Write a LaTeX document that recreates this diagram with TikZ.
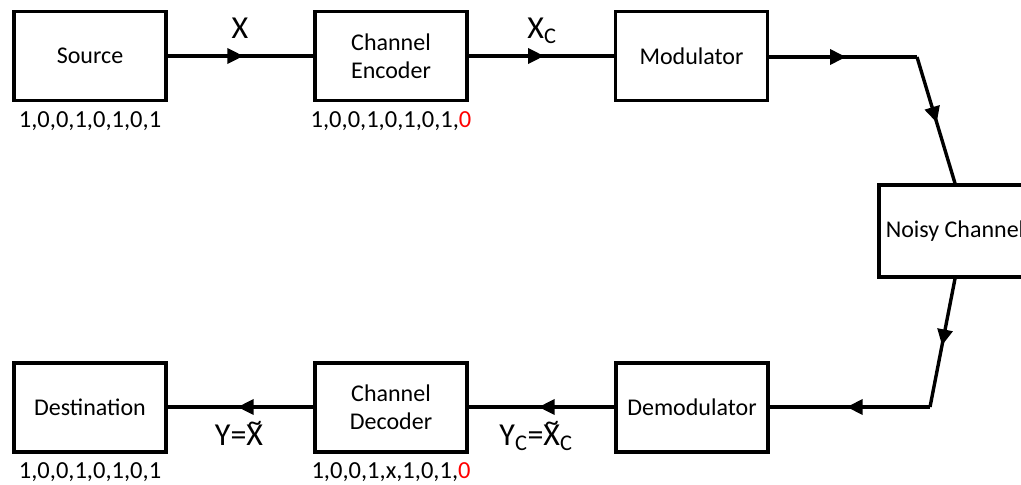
\documentclass[tikz,border=0pt]{standalone}
\usepackage{fontspec}
\setmainfont{Carlito}
\usetikzlibrary{arrows.meta,decorations.markings}
\definecolor{bitred}{RGB}{255,0,0}
\newcommand\tildeX{\leavevmode\setbox0=\hbox{X}\hbox{\rlap{X}\hbox to\wd0{\hss\raisebox{0.43em}{\fontsize{28}{28}\selectfont\textasciitilde}\hss}}}
\tikzset{
  blk/.style={draw=black, line width=3.4pt, minimum width=152pt, minimum height=89pt,
    inner sep=0pt, align=center, font=\fontsize{24}{28}\selectfont},
  bits/.style={font=\fontsize{24.5}{28}\selectfont, anchor=base, inner sep=0pt},
  sig/.style={font=\fontsize{32}{36}\selectfont, anchor=base, inner sep=0pt},
  conn/.style={line width=3.4pt, postaction={decorate},
    decoration={markings, mark=at position 0.52 with {\arrow{Triangle[length=16pt,width=15pt]}}}}
}
\begin{document}
\begin{tikzpicture}[x=1pt,y=-1pt]
\useasboundingbox (0,0) rectangle (1021,485);
\clip (0,0) rectangle (1021,485);
% blocks
\node[blk] (src) at (90,56) {Source};
\node[blk] (enc) at (391,56) {Channel\\Encoder};
\node[blk] (mod) at (691.5,56) {Modulator};
\node[blk, minimum height=92pt] (noisy) at (955,231) {Noisy Channel};
\node[blk] (demod) at (692,407.5) {Demodulator};
\node[blk] (dec) at (391,407.5) {Channel\\Decoder};
\node[blk] (dst) at (90,407.5) {Destination};
% bit strings
\node[bits] (b1) at (90,127) {1,0,0,1,0,1,0,1};
\node[bits] (b2) at (391,127) {1,0,0,1,0,1,0,1,\textcolor{bitred}{0}};
\node[bits] (b3) at (90,478) {1,0,0,1,0,1,0,1};
\node[bits] (b4) at (391,478) {1,0,0,1,x,1,0,1,\textcolor{bitred}{0}};
% signal labels
\node[sig] (lx) at (240,38) {X};
\node[sig] (lxc) at (542,38) {X\textsubscript{C}};
\node[sig] (ly) at (239,445) {Y=\tildeX};
\node[sig] (lyc) at (536,445) {Y\textsubscript{C}=\tildeX\textsubscript{C}};
% corner points
\coordinate (c1) at (917,57);
\coordinate (c2) at (930,407);
% connectors
\draw[conn] (src.east) -- (enc.west);
\draw[conn] (enc.east) -- (mod.west);
\draw[conn] (mod.east |- c1) -- (c1);
\draw[conn] (c1) -- (noisy.north);
\draw[conn] (noisy.south) -- (c2);
\draw[conn] (c2) -- (demod.east |- c2);
\draw[conn] (demod.west |- c2) -- (dec.east |- c2);
\draw[conn] (dec.west |- c2) -- (dst.east |- c2);
\end{tikzpicture}
\end{document}
